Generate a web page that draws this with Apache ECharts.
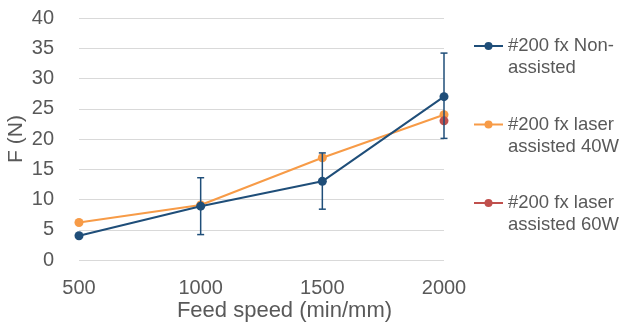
<!DOCTYPE html>
<html>
<head>
<meta charset="utf-8">
<script src="https://cdn.jsdelivr.net/npm/echarts@6/dist/echarts.min.js"></script>
<style>
html,body{margin:0;padding:0;background:#fff;}
#chart{width:622px;height:326px;}
</style>
</head>
<body>
<div id="chart"></div>
<script>
const categories = ['500', '1000', '1500', '2000'];
const seriesNames = ['#200 fx Non-assisted', '#200 fx laser assisted 40W', '#200 fx laser assisted 60W'];
const legendLabels = ['#200 fx Non-\nassisted', '#200 fx laser\nassisted 40W', '#200 fx laser\nassisted 60W'];
const nonAssisted = [4.0, 8.9, 13.0, 27.0];
const laser40W = [6.2, 9.1, 16.9, 24.0];
const laser60W = [null, null, null, 23.0];
const errLow = [null, 4.2, 8.4, 20.1];
const errHigh = [null, 13.6, 17.7, 34.2];
const yTicks = [0, 5, 10, 15, 20, 25, 30, 35, 40];

const colors = ['#1F4E79', '#F79B47', '#C0504D'];
const font = '"Liberation Sans", Arial, sans-serif';
const textColor = '#595959';

const errData = categories.map((c, i) => [i, errLow[i], errHigh[i]]).filter(d => d[1] != null);

const chart = echarts.init(document.getElementById('chart'));
chart.setOption({
  animation: false,
  textStyle: { fontFamily: font },
  grid: { left: 79, right: 178, top: 18, bottom: 66, containLabel: false, outerBoundsMode: 'none' },
  legend: {
    orient: 'vertical',
    left: 473,
    top: 13,
    padding: 0,
    itemWidth: 29,
    itemHeight: 10,
    itemGap: 12.5,
    data: seriesNames,
    formatter: name => '\n' + legendLabels[seriesNames.indexOf(name)],
    textStyle: { fontSize: 18.5, color: textColor, lineHeight: 22, fontFamily: font }
  },
  xAxis: {
    type: 'category',
    data: categories,
    boundaryGap: false,
    axisLine: { show: false },
    axisTick: { show: false },
    axisLabel: { fontSize: 20, color: textColor, margin: 18, fontFamily: font },
    name: 'Feed speed (min/mm)',
    nameLocation: 'middle',
    nameGap: 40,
    nameMoveOverlap: false,
    nameTextStyle: { fontSize: 22, color: textColor, fontFamily: font, padding: [0, 0, 0, 46] }
  },
  yAxis: {
    type: 'value',
    min: yTicks[0],
    max: yTicks[yTicks.length - 1],
    interval: 5,
    axisLine: { show: false },
    axisTick: { show: false },
    axisLabel: { fontSize: 20, color: textColor, margin: 25, fontFamily: font },
    splitLine: { lineStyle: { color: '#d9d9d9', width: 1 } },
    name: 'F (N)',
    nameLocation: 'middle',
    nameGap: 52,
    nameMoveOverlap: false,
    nameTextStyle: { fontSize: 21, color: textColor, fontFamily: font }
  },
  series: [
    {
      name: seriesNames[0], type: 'line', data: nonAssisted,
      symbol: 'circle', symbolSize: 9, color: colors[0],
      lineStyle: { width: 2, color: colors[0] }, itemStyle: { color: colors[0] }, z: 3
    },
    {
      name: seriesNames[1], type: 'line', data: laser40W,
      symbol: 'circle', symbolSize: 9, color: colors[1],
      lineStyle: { width: 2, color: colors[1] }, itemStyle: { color: colors[1] }, z: 2
    },
    {
      name: seriesNames[2], type: 'line', data: laser60W,
      symbol: 'circle', symbolSize: 9, color: colors[2],
      lineStyle: { width: 2, color: colors[2] }, itemStyle: { color: colors[2] }, z: 4
    },
    {
      type: 'custom',
      data: errData,
      z: 5,
      silent: true,
      renderItem: function (params, api) {
        const x = api.value(0);
        const lo = api.coord([x, api.value(1)]);
        const hi = api.coord([x, api.value(2)]);
        const w = 3.5;
        const style = { stroke: colors[0], lineWidth: 1.5 };
        return {
          type: 'group',
          children: [
            { type: 'line', shape: { x1: lo[0], y1: lo[1], x2: hi[0], y2: hi[1] }, style },
            { type: 'line', shape: { x1: lo[0] - w, y1: lo[1], x2: lo[0] + w, y2: lo[1] }, style },
            { type: 'line', shape: { x1: hi[0] - w, y1: hi[1], x2: hi[0] + w, y2: hi[1] }, style }
          ]
        };
      }
    }
  ]
});
</script>
</body>
</html>
